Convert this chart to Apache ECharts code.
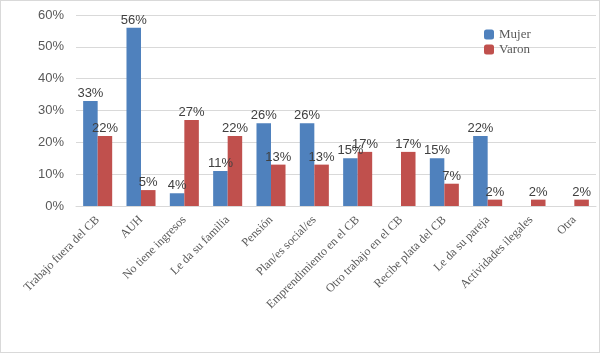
<!DOCTYPE html>
<html>
<head>
<meta charset="utf-8">
<script src="https://cdn.jsdelivr.net/npm/echarts@6/dist/echarts.min.js"></script>
<style>
  html, body { margin: 0; padding: 0; background: #fff; }
  #chart { width: 600px; height: 353px; box-sizing: border-box; border: 1px solid #d9d9d9; }
</style>
</head>
<body>
<div id="chart"></div>
<script>
const categories = ['Trabajo fuera del CB', 'AUH', 'No tiene ingresos', 'Le da su familia', 'Pensión',
  'Plan/es social/es', 'Emprendimiento en el CB', 'Otro trabajo en el CB', 'Recibe plata del CB',
  'Le da su pareja', 'Actividades ilegales', 'Otra']
const mujer = [33, 56, 4, 11, 26, 26, 15, null, 15, 22, null, null]
const varon = [22, 5, 27, 22, 13, 13, 17, 17, 7, 2, 2, 2]
const yTicks = [0, 10, 20, 30, 40, 50, 60]

const chart = echarts.init(document.getElementById('chart'))

const labelStyle = {
  show: true,
  position: 'top',
  distance: 1,
  color: '#404040',
  fontSize: 13,
  fontFamily: 'Liberation Sans, Arial, sans-serif',
  formatter: p => (p.value == null ? '' : p.value + '%')
}

chart.setOption({
  animation: false,
  legend: {
    data: ['Mujer', 'Varon'],
    orient: 'vertical',
    left: 483,
    top: 27,
    padding: 0,
    itemWidth: 10,
    itemHeight: 10,
    itemGap: 2,
    itemStyle: { borderWidth: 0 },
    textStyle: { color: '#595959', fontSize: 13, fontFamily: 'Liberation Serif, DejaVu Serif, serif' }
  },
  grid: { left: 75, right: 3, top: 14, bottom: 146 },
  xAxis: {
    type: 'category',
    data: categories,
    axisLine: { lineStyle: { color: '#d9d9d9' } },
    axisTick: { show: false },
    axisLabel: {
      interval: 0,
      rotate: 45,
      color: '#595959',
      fontSize: 12,
      fontFamily: 'Liberation Serif, DejaVu Serif, serif',
      margin: 12
    }
  },
  yAxis: {
    type: 'value',
    min: yTicks[0],
    max: yTicks[yTicks.length - 1],
    interval: 10,
    axisLine: { show: false },
    axisTick: { show: false },
    axisLabel: {
      color: '#595959',
      fontSize: 13,
      fontFamily: 'Liberation Sans, Arial, sans-serif',
      margin: 12,
      formatter: v => v + '%'
    },
    splitLine: { lineStyle: { color: '#d9d9d9' } }
  },
  series: [
    {
      name: 'Mujer',
      type: 'bar',
      data: mujer,
      barGap: '0%',
      barCategoryGap: '33%',
      itemStyle: { color: '#4f81bd' },
      label: labelStyle
    },
    {
      name: 'Varon',
      type: 'bar',
      data: varon,
      itemStyle: { color: '#c0504d' },
      label: labelStyle
    }
  ]
})
</script>
</body>
</html>
